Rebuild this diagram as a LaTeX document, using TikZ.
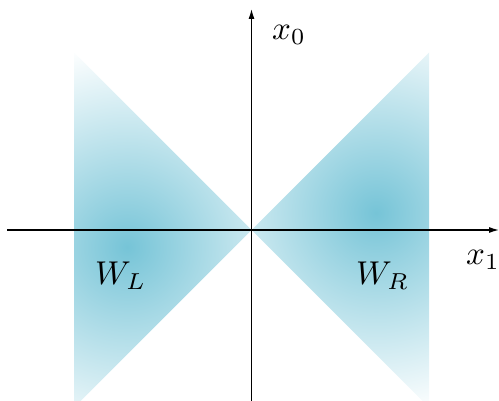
\documentclass[tikz,border=0pt]{standalone}
\usepackage{graphicx}
\usetikzlibrary{arrows.meta}
\definecolor{wedgeblue}{RGB}{118,196,215}
\newcommand{\biglbl}[1]{\scalebox{3.3}{#1}}
\tikzset{
  axis/.style={line width=1.2pt,-{Latex[length=10pt,width=6pt]}},
  lbl/.style={inner sep=0pt,anchor=base west},
  wedgeshade/.style={inner color=wedgeblue,outer color=white}
}
\begin{document}
\begin{tikzpicture}[x=1pt,y=-1pt]
\useasboundingbox (0,0) rectangle (499,401);
\coordinate (O) at (251.5,230);
\coordinate (LT) at (74,52.5);
\coordinate (LB) at (74,407.5);
\coordinate (RT) at (429,52.5);
\coordinate (RB) at (429,407.5);
\coordinate (xs) at (7,230);
\coordinate (xe) at (499,230);
\coordinate (ys) at (251.5,401);
\coordinate (ye) at (251.5,9);
\begin{scope}
  \clip (O) -- (LT) -- (LB) -- cycle;
  \shade[wedgeshade] (127,247) circle (205);
\end{scope}
\begin{scope}
  \clip (O) -- (RT) -- (RB) -- cycle;
  \shade[wedgeshade] (376,213) circle (205);
\end{scope}
\draw[axis] (xs) -- (xe);
\draw[axis] (ys) -- (ye);
\node[lbl] (x0) at (272,40) {\biglbl{$x_0$}};
\node[lbl] (x1) at (466,265) {\biglbl{$x_1$}};
\node[lbl] (WL) at (95,285) {\biglbl{$W_L$}};
\node[lbl] (WR) at (356,285) {\biglbl{$W_R$}};
\end{tikzpicture}
\end{document}
